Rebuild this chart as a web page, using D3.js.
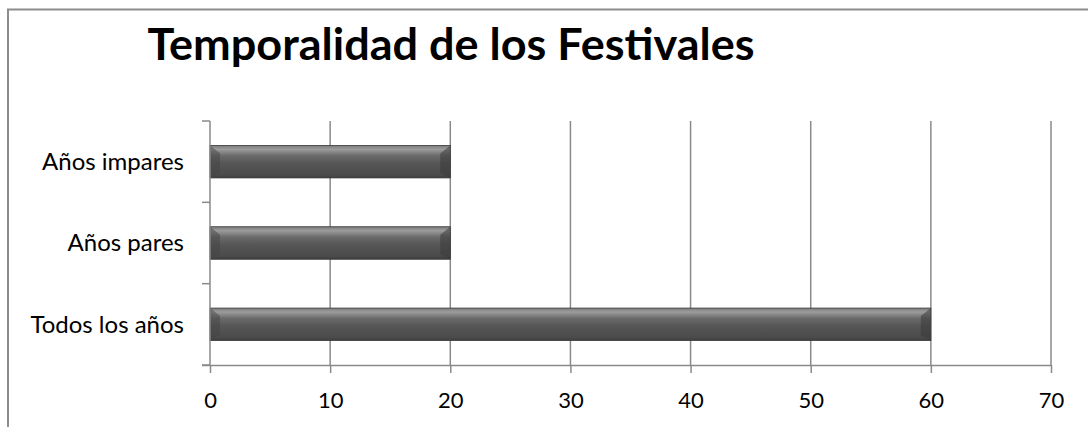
<!DOCTYPE html>
<html>
<head>
<meta charset="utf-8">
<script src="https://cdn.jsdelivr.net/npm/d3@7"></script>
<style>
  html, body { margin: 0; padding: 0; background: #fff; }
  svg { display: block; }
</style>
</head>
<body>
<svg id="chart" width="1088" height="427"></svg>
<script>
// Festival frequency categories and counts
const categories = ["Todos los años", "Años pares", "Años impares"];
const values = [60, 20, 20];
const xTicks = [0, 10, 20, 30, 40, 50, 60, 70];
const titleText = "Temporalidad de los Festivales";

const FONT = "Lato, 'Open Sans', sans-serif";
const svg = d3.select("#chart");
const W = 1088, H = 427;
const margin = { left: 210, right: 37, top: 121, bottom: 62 };
const plotW = W - margin.left - margin.right;
const plotH = H - margin.top - margin.bottom;

// Chart frame
svg.append("rect")
  .attr("x", 8).attr("y", 9.5)
  .attr("width", W + 20).attr("height", H + 20)
  .attr("fill", "#fff").attr("stroke", "#8c8c8c").attr("stroke-width", 2);

// Gradient for the bars
const defs = svg.append("defs");
const grad = defs.append("linearGradient").attr("id", "barGrad")
  .attr("x1", 0).attr("y1", 0).attr("x2", 0).attr("y2", 1);
[[0, "#7a7a7a"], [0.12, "#9c9c9c"], [0.32, "#6a6a6a"], [0.55, "#565656"], [0.9, "#4b4b4b"], [1, "#3e3e3e"]]
  .forEach(([o, c]) => grad.append("stop").attr("offset", o).attr("stop-color", c));

// Title
svg.append("text")
  .attr("x", 451).attr("y", 60)
  .attr("text-anchor", "middle")
  .attr("font-family", FONT)
  .attr("font-weight", "bold")
  .attr("font-size", 43)
  .attr("fill", "#000")
  .attr("textLength", 607)
  .attr("lengthAdjust", "spacingAndGlyphs")
  .text(titleText);

const g = svg.append("g").attr("transform", `translate(${margin.left},${margin.top})`);

const x = d3.scaleLinear().domain([0, 70]).range([0, plotW]);
const y = d3.scaleBand().domain(categories).range([plotH, 0]).paddingInner(0.6).paddingOuter(0.3);

// Vertical gridlines
g.append("g").selectAll("line").data(xTicks.filter(t => t > 0)).join("line")
  .attr("x1", d => x(d)).attr("x2", d => x(d))
  .attr("y1", 0).attr("y2", plotH)
  .attr("stroke", "#8a8a8a").attr("stroke-width", 1.5);

// Bars
const bars = g.append("g").selectAll("g").data(categories.map((c, i) => ({ c, v: values[i] }))).join("g");
bars.append("rect")
  .attr("x", 0).attr("y", d => y(d.c))
  .attr("width", d => x(d.v)).attr("height", y.bandwidth())
  .attr("fill", "url(#barGrad)")
  .attr("stroke", "#3a3a3a").attr("stroke-width", 0.8);
// Bevelled ends
const bev = 10;
bars.append("path")
  .attr("d", d => {
    const y0 = y(d.c), h = y.bandwidth();
    return `M0,${y0} L${bev},${y0 + bev * 0.8} L${bev},${y0 + h - bev * 0.5} L0,${y0 + h} Z`;
  })
  .attr("fill", "#444").attr("opacity", 0.5);
bars.append("path")
  .attr("d", d => {
    const x1 = x(d.v), y0 = y(d.c), h = y.bandwidth();
    return `M${x1},${y0} L${x1 - bev},${y0 + bev * 0.8} L${x1 - bev},${y0 + h - bev * 0.5} L${x1},${y0 + h} Z`;
  })
  .attr("fill", "#3a3a3a").attr("opacity", 0.55);

// X axis
const xAxis = g.append("g").attr("transform", `translate(0,${plotH})`)
  .call(d3.axisBottom(x).tickValues(xTicks).tickSize(8).tickPadding(19).tickFormat(d3.format("d")));
xAxis.select(".domain").attr("stroke", "#8a8a8a").attr("stroke-width", 1.5).attr("d", `M-8,0.5H${plotW}`);
xAxis.selectAll(".tick line").attr("stroke", "#8a8a8a").attr("stroke-width", 1.5);
xAxis.selectAll("text").attr("font-family", FONT).attr("font-size", 22).attr("fill", "#000");

// Y axis: line, category-boundary ticks and labels
g.append("line").attr("x1", 0).attr("x2", 0).attr("y1", 0).attr("y2", plotH)
  .attr("stroke", "#8a8a8a").attr("stroke-width", 1.5);
g.append("g").selectAll("line").data(d3.range(categories.length + 1)).join("line")
  .attr("x1", -8).attr("x2", 0)
  .attr("y1", i => plotH - i * plotH / categories.length)
  .attr("y2", i => plotH - i * plotH / categories.length)
  .attr("stroke", "#8a8a8a").attr("stroke-width", 1.5);
g.append("g").selectAll("text").data(categories).join("text")
  .attr("x", -26).attr("y", d => y(d) + y.bandwidth() / 2)
  .attr("dy", "0.35em")
  .attr("text-anchor", "end")
  .attr("font-family", FONT)
  .attr("font-size", 24).attr("fill", "#000")
  .text(d => d);
</script>
</body>
</html>
